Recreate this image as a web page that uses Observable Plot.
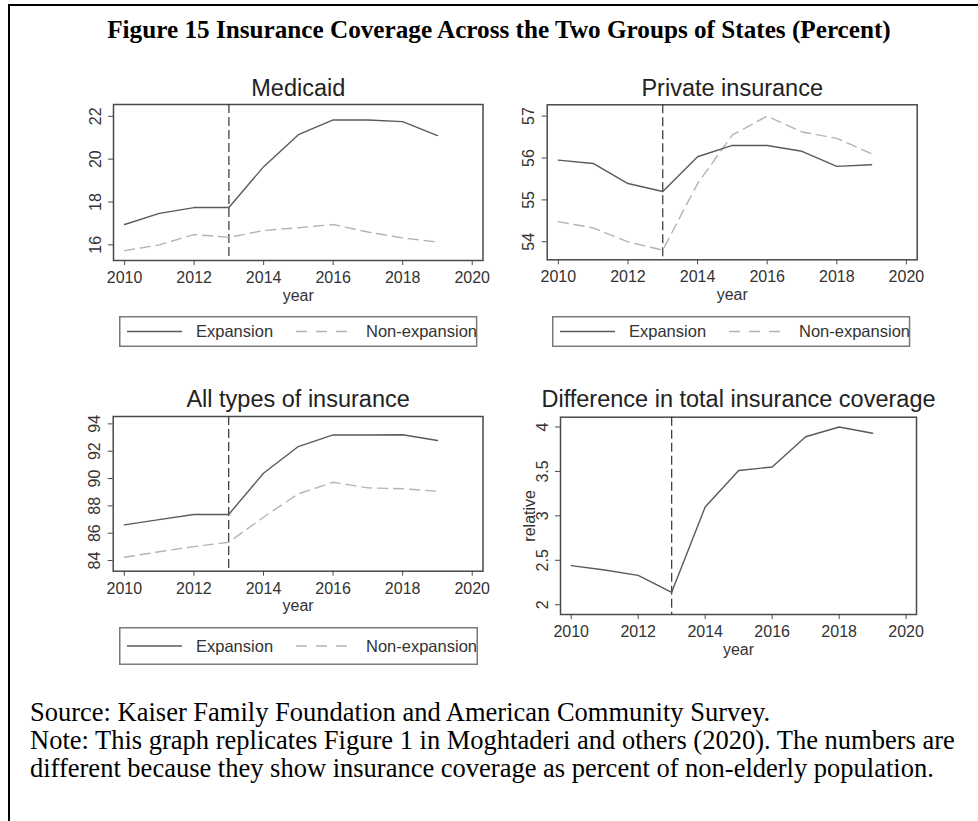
<!DOCTYPE html>
<html><head><meta charset="utf-8">
<script src="https://cdn.jsdelivr.net/npm/d3@7"></script>
<script src="https://cdn.jsdelivr.net/npm/@observablehq/plot@0.6"></script>
<style>
html,body{margin:0;padding:0;background:#fff;width:978px;height:821px;overflow:hidden;}
#page{position:relative;width:978px;height:821px;}
.border{position:absolute;left:8px;top:4px;width:1000px;height:900px;border:2px solid #000;box-sizing:border-box;}
.title{position:absolute;left:0;width:998px;top:17px;text-align:center;font:bold 25.2px/25px "Liberation Serif","Times New Roman",serif;color:#000;white-space:nowrap;}
.note{position:absolute;left:30px;font:26.5px/26.5px "Liberation Serif","Times New Roman",serif;color:#000;white-space:nowrap;}
.panel{position:absolute;}
.legend{position:absolute;overflow:visible;}
</style></head>
<body><div id="page">
<div class="border"></div>
<div class="title">Figure 15 Insurance Coverage Across the Two Groups of States (Percent)</div>
<div class="note" style="top:699px">Source: Kaiser Family Foundation and American Community Survey.</div>
<div class="note" style="top:727px">Note: This graph replicates Figure 1 in Moghtaderi and others (2020). The numbers are</div>
<div class="note" style="top:755px">different because they show insurance coverage as percent of non-elderly population.</div>
</div>
<script>
const years = [2010, 2011, 2012, 2013, 2014, 2015, 2016, 2017, 2018, 2019];
const xTicks = [2010, 2012, 2014, 2016, 2018, 2020];
const expansionYear = 2013;

const medicaidExpansion    = [16.95, 17.47, 17.74, 17.74, 19.65, 21.14, 21.83, 21.83, 21.75, 21.10];
const medicaidNonExpansion = [15.73, 16.00, 16.48, 16.35, 16.67, 16.80, 16.95, 16.60, 16.32, 16.13];
const medicaidTicks = [16, 18, 20, 22];

const privateExpansion    = [55.95, 55.87, 55.39, 55.20, 56.03, 56.30, 56.30, 56.16, 55.80, 55.84];
const privateNonExpansion = [54.48, 54.33, 54.00, 53.80, 55.39, 56.55, 57.00, 56.62, 56.47, 56.10];
const privateTicks = [54, 55, 56, 57];

const allExpansion    = [86.61, 86.99, 87.37, 87.37, 90.39, 92.34, 93.19, 93.19, 93.20, 92.78];
const allNonExpansion = [84.24, 84.64, 85.02, 85.34, 87.17, 88.88, 89.73, 89.32, 89.25, 89.07];
const allTicks = [84, 86, 88, 90, 92, 94];

const relativeDiff = [2.44, 2.39, 2.33, 2.14, 3.10, 3.51, 3.55, 3.89, 4.00, 3.93];
const relativeTicks = [2, 2.5, 3, 3.5, 4];

const legendLabels = ["Expansion", "Non-expansion"];

const page = document.getElementById("page");
const font = '"Liberation Sans", Arial, Helvetica, sans-serif';

function toRows(values) { return years.map((year, i) => ({year, value: values[i]})); }

function panel({title, solid, dashed, yDomain, yTicks, ylabel, box, frame, titleDy}) {
  const marks = [
    Plot.frame({stroke: "#4a4a4a", strokeWidth: 1.5}),
    Plot.axisX({ticks: xTicks, tickFormat: "d", tickSize: 5, tickPadding: 6, stroke: "#4a4a4a",
      label: "year", labelAnchor: "center", labelArrow: "none", labelOffset: 40}),
    Plot.axisY({ticks: yTicks, tickFormat: d => String(d), tickRotate: -90, tickSize: 5, tickPadding: 8, stroke: "#4a4a4a",
      label: ylabel, labelAnchor: "center", labelArrow: "none", labelOffset: 37}),
    Plot.ruleX([expansionYear], {stroke: "#333", strokeWidth: 1.2, strokeDasharray: "9,4"}),
  ];
  if (dashed) marks.push(Plot.line(toRows(dashed), {x: "year", y: "value", stroke: "#b4b4b4", strokeWidth: 1.4, strokeDasharray: "10,6"}));
  marks.push(Plot.line(toRows(solid), {x: "year", y: "value", stroke: "#5a5a5a", strokeWidth: 1.4}));
  marks.push(Plot.text([title], {frameAnchor: "top", dy: titleDy, lineAnchor: "bottom", fontSize: 23.5, fill: "#222"}));
  const svg = Plot.plot({
    width: box.w, height: box.h,
    marginLeft: frame.x0 - box.x, marginRight: box.x + box.w - frame.x1,
    marginTop: frame.y0 - box.y, marginBottom: box.y + box.h - frame.y1,
    style: {fontFamily: font, fontSize: "16px", color: "#333", background: "transparent", overflow: "visible"},
    x: {domain: [2009.68, 2020.31]},
    y: {domain: yDomain},
    marks
  });
  svg.classList.add("panel");
  svg.style.left = box.x + "px";
  svg.style.top = box.y + "px";
  page.appendChild(svg);
}

function legend(x0, y0, x1, y1) {
  const w = x1 - x0, h = y1 - y0, cy = h / 2;
  const svg = d3.create("svg").attr("class", "legend").attr("width", w).attr("height", h)
    .style("left", x0 + "px").style("top", y0 + "px");
  svg.append("rect").attr("x", 0.75).attr("y", 0.75).attr("width", w - 1.5).attr("height", h - 1.5)
    .attr("fill", "none").attr("stroke", "#7a7a7a").attr("stroke-width", 1.5);
  svg.append("line").attr("x1", 8).attr("x2", 63).attr("y1", cy).attr("y2", cy).attr("stroke", "#5a5a5a").attr("stroke-width", 1.4);
  svg.append("line").attr("x1", 177).attr("x2", 229).attr("y1", cy).attr("y2", cy).attr("stroke", "#b4b4b4").attr("stroke-width", 1.4).attr("stroke-dasharray", "11,9");
  svg.append("text").attr("x", 77).attr("y", cy).attr("dy", "0.35em").text(legendLabels[0])
    .attr("font-family", font).attr("font-size", 16.5).attr("fill", "#333");
  svg.append("text").attr("x", 247).attr("y", cy).attr("dy", "0.35em").text(legendLabels[1])
    .attr("font-family", font).attr("font-size", 16.5).attr("fill", "#333");
  page.appendChild(svg.node());
}

panel({title: "Medicaid", solid: medicaidExpansion, dashed: medicaidNonExpansion,
  yDomain: [15.27, 22.55], yTicks: medicaidTicks, ylabel: null,
  box: {x: 40, y: 60, w: 460, h: 250}, frame: {x0: 113, x1: 482.5, y0: 104, y1: 260}, titleDy: -9});
panel({title: "Private insurance", solid: privateExpansion, dashed: privateNonExpansion,
  yDomain: [53.57, 57.27], yTicks: privateTicks, ylabel: null,
  box: {x: 490, y: 60, w: 460, h: 250}, frame: {x0: 546.7, x1: 916.7, y0: 104.3, y1: 259.3}, titleDy: -9.3});
panel({title: "All types of insurance", solid: allExpansion, dashed: allNonExpansion,
  yDomain: [83.22, 94.54], yTicks: allTicks, ylabel: null,
  box: {x: 40, y: 370, w: 460, h: 255}, frame: {x0: 112.7, x1: 482.5, y0: 416, y1: 570.7}, titleDy: -10});
panel({title: "Difference in total insurance coverage", solid: relativeDiff, dashed: null,
  yDomain: [1.89, 4.11], yTicks: relativeTicks, ylabel: "relative",
  box: {x: 490, y: 370, w: 460, h: 300}, frame: {x0: 560, x1: 916, y0: 416.7, y1: 614}, titleDy: -10.7});

legend(119.3, 315.7, 477.7, 346.7);
legend(551.7, 315.7, 910, 346.7);
legend(119, 627, 478, 665);
</script>
</body></html>
